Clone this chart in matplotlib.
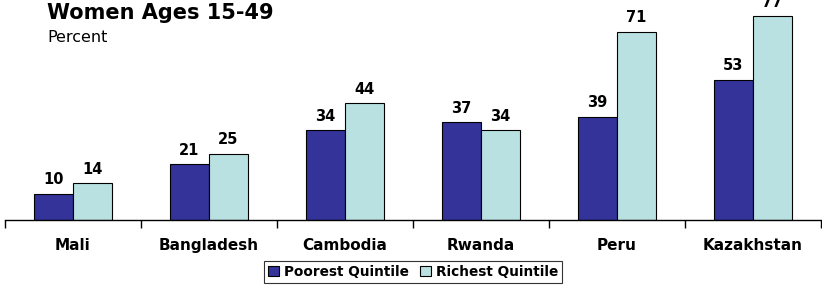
import matplotlib
matplotlib.use("Agg")
import matplotlib.pyplot as plt
import numpy as np

plt.rcParams['font.family'] = ['Liberation Sans', 'DejaVu Sans']

countries = ["Mali", "Bangladesh", "Cambodia", "Rwanda", "Peru", "Kazakhstan"]
poorest = [10, 21, 34, 37, 39, 53]
richest = [14, 25, 44, 34, 71, 77]
series_names = ["Poorest Quintile", "Richest Quintile"]
colors = ["#333399", "#B9E1E1"]

wide = ['DejaVu Sans']

fig = plt.figure(figsize=(8.22, 2.89), dpi=100)
ax = fig.add_axes([5/822, 1-220/289, 816/822, 212/289])

x = np.arange(len(countries))
w = 0.287
b1 = ax.bar(x - w/2, poorest, w, color=colors[0], edgecolor="black", linewidth=0.8, label=series_names[0])
b2 = ax.bar(x + w/2, richest, w, color=colors[1], edgecolor="black", linewidth=0.8, label=series_names[1])

for bars, vals in ((b1, poorest), (b2, richest)):
    for r, v in zip(bars, vals):
        ax.text(r.get_x() + r.get_width()/2, v + 2.4, str(v), ha="center", va="bottom",
                fontsize=10.5, fontweight="bold", family=wide)

ax.set_xlim(-0.5, len(countries) - 0.5)
ax.set_ylim(0, 80)
for s in ["left", "right", "top"]:
    ax.spines[s].set_visible(False)
ax.spines["bottom"].set_linewidth(1.0)
ax.set_yticks([])
ax.set_xticks(x)
ax.set_xticklabels(countries, fontsize=11, fontweight="bold", family=wide)
ax.tick_params(axis="x", which="major", length=0, pad=13)
ax.set_xticks(np.arange(len(countries) + 1) - 0.5, minor=True)
ax.tick_params(axis="x", which="minor", length=6, width=1.0, direction="out")

fig.text(47/822, 1-13/289, "Women Ages 15-49", fontsize=15, fontweight="bold", va="center", ha="left",
         family=wide)
fig.text(47/822, 1-37/289, "Percent", fontsize=11.5, va="center", ha="left", family=wide)

leg = fig.legend(loc="center", bbox_to_anchor=(413/822, 1-272/289), ncol=2,
                 frameon=True, fancybox=False, edgecolor="black", handlelength=0.8, handleheight=0.8,
                 handletextpad=0.4, columnspacing=0.8, borderpad=0.3,
                 prop={"weight": "bold", "size": 9.8, "family": wide})
leg.get_frame().set_linewidth(0.8)

fig.savefig("out.png", dpi=100)
